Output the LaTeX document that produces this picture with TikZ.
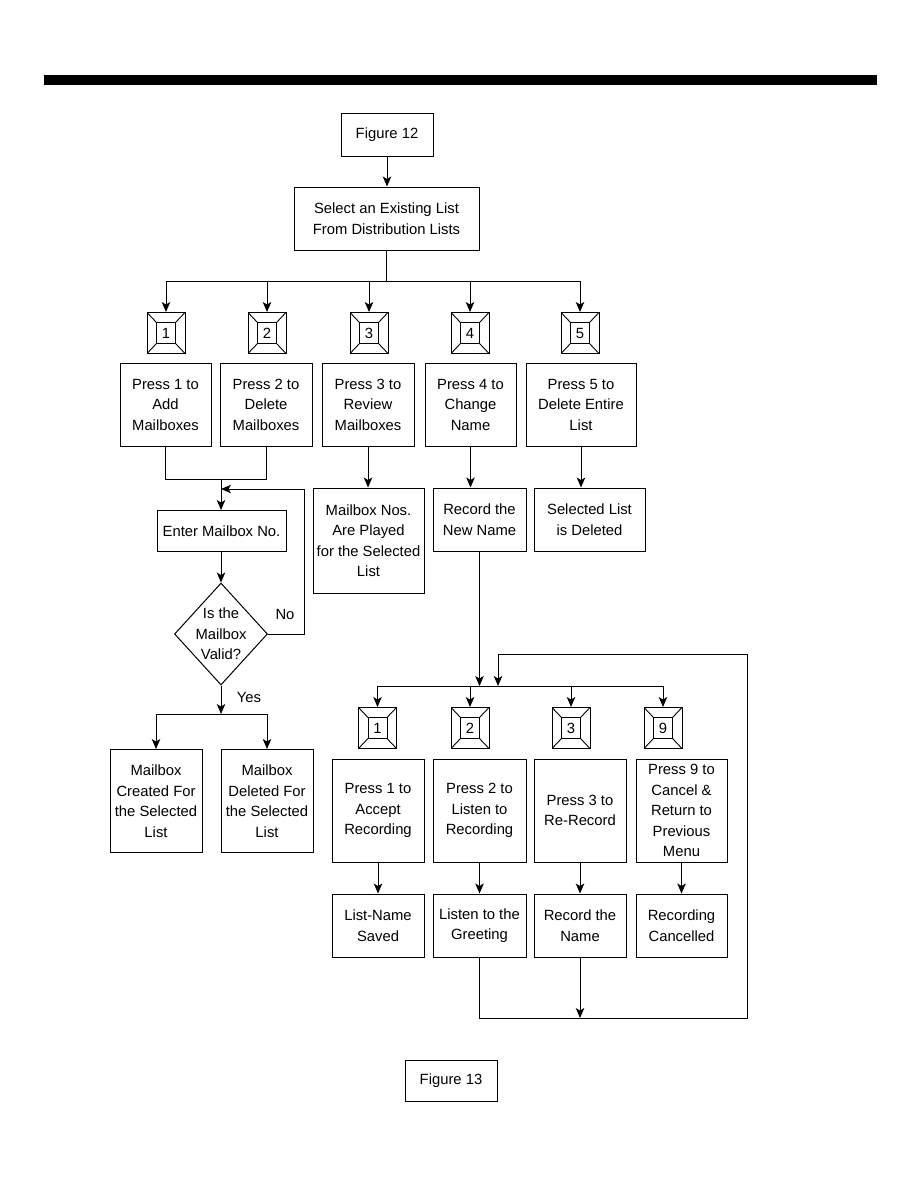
\documentclass[tikz,border=0pt]{standalone}
\usepackage{fontspec}
\setmainfont{Liberation Sans}
\usetikzlibrary{arrows.meta,shapes.geometric}
\newcommand\fsz{\fontsize{14.8}{20.5}\selectfont}
\tikzset{
  x=1pt,y=-1pt,
  box/.style={draw,line width=1pt,align=center,inner sep=0pt,font=\fsz},
  keyb/.style={draw,line width=1pt,minimum width=38pt,minimum height=41pt,inner sep=0pt,font=\fsz,
    path picture={
      \draw[line width=1pt] ([shift={(-9.5pt,-10.5pt)}]path picture bounding box.center) rectangle ([shift={(9.5pt,10.5pt)}]path picture bounding box.center);
      \draw[line width=0.9pt] (path picture bounding box.north west) -- ([shift={(-9.5pt,10.5pt)}]path picture bounding box.center);
      \draw[line width=0.9pt] (path picture bounding box.north east) -- ([shift={(9.5pt,10.5pt)}]path picture bounding box.center);
      \draw[line width=0.9pt] (path picture bounding box.south west) -- ([shift={(-9.5pt,-10.5pt)}]path picture bounding box.center);
      \draw[line width=0.9pt] (path picture bounding box.south east) -- ([shift={(9.5pt,-10.5pt)}]path picture bounding box.center);
    }},
  conn/.style={line width=1pt},
  arr/.style={conn,-{Stealth[length=10pt,width=8.5pt,inset=2.5pt,fill=black]}},
  lbl/.style={font=\fsz,inner sep=0pt}
}
\begin{document}
\begin{tikzpicture}
\useasboundingbox (0,0) rectangle (918,1188);
\fill (44,75) rectangle (877,85);

% top
\node[box,minimum width=92pt,minimum height=42pt] (f12) at (387,135) {Figure 12};
\node[box,minimum width=185pt,minimum height=63pt] (sel) at (386.5,218.5) {Select an Existing List\\From Distribution Lists};

% keys row 1
\node[keyb] (k1) at (166,333) {1};
\node[keyb] (k2) at (267,333) {2};
\node[keyb] (k3) at (369,333) {3};
\node[keyb] (k4) at (470,333) {4};
\node[keyb] (k5) at (580,333) {5};

% press row 1
\node[box,minimum width=91pt,minimum height=83pt] (p1) at (165.5,404.5) {Press 1 to\\Add\\Mailboxes};
\node[box,minimum width=92pt,minimum height=83pt] (p2) at (266,404.5) {Press 2 to\\Delete\\Mailboxes};
\node[box,minimum width=92pt,minimum height=83pt] (p3) at (368,404.5) {Press 3 to\\Review\\Mailboxes};
\node[box,minimum width=91pt,minimum height=83pt] (p4) at (470.5,404.5) {Press 4 to\\Change\\Name};
\node[box,minimum width=110pt,minimum height=83pt] (p5) at (581,404.5) {Press 5 to\\Delete Entire\\List};

% left branch
\node[box,minimum width=129pt,minimum height=41pt] (ent) at (221.5,531) {Enter Mailbox No.};
\node[draw,diamond,line width=1pt,minimum width=93pt,minimum height=102pt,inner sep=0pt] (dia) at (221,634) {};
\node[lbl,align=center] (diat) at (221,634) {Is the\\Mailbox\\Valid?};
\node[lbl] (no) at (285,614) {No};
\node[lbl] (yes) at (249,697) {Yes};
\node[box,minimum width=92pt,minimum height=103pt] (cr) at (156,801) {Mailbox\\Created For\\the Selected\\List};
\node[box,minimum width=92pt,minimum height=103pt] (dl) at (267,801) {Mailbox\\Deleted For\\the Selected\\List};

% middle results
\node[box,minimum width=111pt,minimum height=105pt] (mn) at (368.5,540.5) {Mailbox Nos.\\Are Played\\for the Selected\\List};
\node[box,minimum width=93pt,minimum height=63pt] (rec) at (479.5,519.5) {Record the\\New Name};
\node[box,minimum width=111pt,minimum height=63pt] (sd) at (589.5,519.5) {Selected List\\is Deleted};

% keys row 2
\node[keyb] (q1k) at (377.5,728) {1};
\node[keyb] (q2k) at (470,728) {2};
\node[keyb] (q3k) at (571,728) {3};
\node[keyb] (q9k) at (663,728) {9};

% press row 2
\node[box,minimum width=92pt,minimum height=103pt] (q1) at (378,810.5) {Press 1 to\\Accept\\Recording};
\node[box,minimum width=93pt,minimum height=103pt] (q2) at (479.5,810.5) {Press 2 to\\Listen to\\Recording};
\node[box,minimum width=92pt,minimum height=103pt] (q3) at (580,810.5) {Press 3 to\\Re-Record};
\node[box,minimum width=91pt,minimum height=103pt] (q9) at (681.5,810.5) {Press 9 to\\Cancel \&\\Return to\\Previous\\Menu};

% results row 2
\node[box,minimum width=92pt,minimum height=63pt] (r1) at (378,925.5) {List-Name\\Saved};
\node[box,minimum width=93pt,minimum height=63pt] (r2) at (479.5,925.5) {Listen to the\\Greeting};
\node[box,minimum width=92pt,minimum height=63pt] (r3) at (580,925.5) {Record the\\Name};
\node[box,minimum width=91pt,minimum height=63pt] (r9) at (681.5,925.5) {Recording\\Cancelled};

\node[box,minimum width=92pt,minimum height=41pt] (f13) at (451,1080.5) {Figure 13};

% connectors top
\draw[arr] (f12.south) -- (f12.south |- sel.north);
\coordinate (bus1) at (387,281);
\draw[conn] (sel.south) -- (sel.south |- bus1);
\draw[conn] (k1.north |- bus1) -- (k5.north |- bus1);
\foreach \k in {k1,k2,k3,k4,k5} \draw[arr] (\k.north |- bus1) -- (\k.north);

% left branch connectors
\coordinate (j1) at (221,479);
\draw[conn] (p1.south) -- (p1.south |- j1) -- (p2.south |- j1) -- (p2.south);
\draw[arr] (j1) -- (j1 |- ent.north);
\coordinate (nr) at (304,489);
\draw[arr] (dia.east) -- (dia.east -| nr) -- (nr) -- (j1 |- nr);
\draw[arr] (ent.south -| dia.north) -- (dia.north);
\coordinate (j2) at (221,714);
\draw[arr] (dia.south) -- (j2);
\draw[conn] (cr.north |- j2) -- (dl.north |- j2);
\draw[arr] (cr.north |- j2) -- (cr.north);
\draw[arr] (dl.north |- j2) -- (dl.north);

% middle connectors
\draw[arr] (p3.south) -- (p3.south |- mn.north);
\draw[arr] (p4.south) -- (p4.south |- rec.north);
\draw[arr] (p5.south) -- (p5.south |- sd.north);

% lower bus
\coordinate (bus2) at (480,686);
\draw[arr] (rec.south) -- (rec.south |- bus2);
\draw[conn] (q1k.north |- bus2) -- (q9k.north |- bus2);
\foreach \k in {q1k,q2k,q3k,q9k} \draw[arr] (\k.north |- bus2) -- (\k.north);

\draw[arr] (q1.south) -- (r1.north);
\draw[arr] (q2.south) -- (r2.north);
\draw[arr] (q3.south) -- (r3.north);
\draw[arr] (q9.south) -- (r9.north);

% return loop
\coordinate (rb) at (747,1018);
\coordinate (rt) at (747,654);
\coordinate (rl) at (498,654);
\draw[conn] (r2.south) -- (r2.south |- rb) -- (rb) -- (rt) -- (rl);
\draw[arr] (rl) -- (rl |- bus2);
\draw[arr] (r3.south) -- (r3.south |- rb);
\end{tikzpicture}
\end{document}
